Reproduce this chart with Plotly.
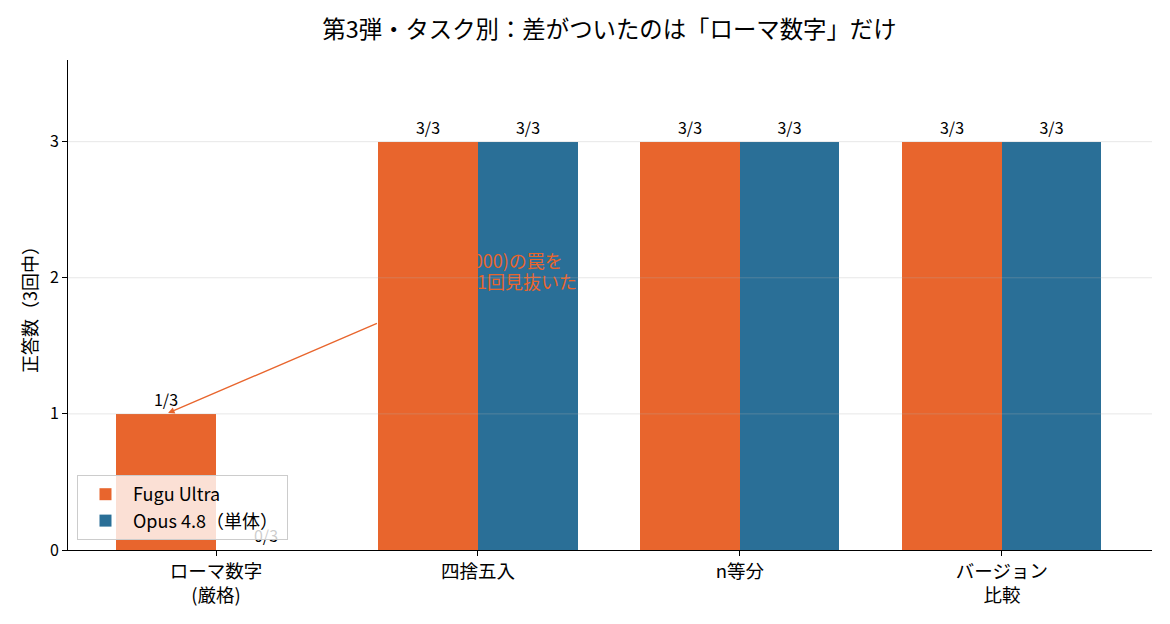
import plotly.graph_objects as go

# data
categories = ["ローマ数字<br>(厳格)", "四捨五入", "n等分", "バージョン<br>比較"]
fugu_scores = [1, 3, 3, 3]
opus_scores = [0, 3, 3, 3]
total_runs = 3
y_ticks = [0, 1, 2, 3]
note_lines = ["範囲外(4000)の罠を", "Fuguだけが1回見抜いた"]

FONT = "Noto Sans CJK JP"
ORANGE = "#E8652D"
BLUE = "#2A6F97"
BAR_W = 0.38

x_pos = list(range(len(categories)))

fig = go.Figure()

# Fugu sits on an overlay axis so it is drawn above the note text (like the source)
fig.add_trace(go.Bar(
    x=x_pos, y=fugu_scores, name="Fugu Ultra",
    width=BAR_W, offset=-BAR_W, marker_color=ORANGE, marker_line_width=0,
    text=[f"{v}/{total_runs}" for v in fugu_scores], textposition="outside",
    textfont=dict(size=16, color="black"), cliponaxis=False,
    xaxis="x2", yaxis="y2",
))
fig.add_trace(go.Bar(
    x=x_pos, y=opus_scores, name="Opus 4.8（単体）\u00a0",
    width=BAR_W, offset=0, marker_color=BLUE, marker_line_width=0,
    text=[f"{v}/{total_runs}" for v in opus_scores], textposition="outside",
    textfont=dict(size=16, color="black"), cliponaxis=False,
))
# note text, partly hidden behind the orange bar (one trace per line)
fig.add_trace(go.Scatter(
    x=[1.324, 1.378], y=[2.103, 1.949], mode="text",
    text=note_lines,
    textposition="middle left",
    textfont=dict(size=18, color=ORANGE, family=FONT),
    showlegend=False, hoverinfo="skip",
))

# arrow pointing at the Fugu bar in the first group
fig.add_annotation(
    x=x_pos[0] - BAR_W / 2, y=fugu_scores[0], ax=0.62, ay=1.67,
    xref="x", yref="y", axref="x", ayref="y",
    text="", showarrow=True, arrowhead=2, arrowsize=1, arrowwidth=1.3,
    arrowcolor=ORANGE, standoff=2,
)

# grid on top of the bars, faint
for v in y_ticks[1:]:
    fig.add_shape(type="line", xref="paper", yref="y", x0=0, x1=1, y0=v, y1=v,
                  line=dict(color="rgba(176,176,176,0.3)", width=1), layer="above")

x_range = [-0.565, 3.573]
y_range = [0, 3.6]

# page body adds 8px, so the figure is 8px smaller each way
fig.update_layout(
    width=1162, height=616,
    margin=dict(l=60, r=18, t=52, b=74),
    paper_bgcolor="white", plot_bgcolor="white",
    font=dict(family=FONT, size=17, color="black"),
    title=dict(text="第3弾・タスク別：差がついたのは「ローマ数字」だけ",
               x=0.5176, xanchor="center", y=0.9643, yanchor="middle",
               font=dict(size=23.4, color="black")),
    barmode="overlay",
    bargap=0,
    xaxis=dict(range=x_range, tickvals=x_pos, ticktext=categories,
               showline=True, linecolor="black", linewidth=1,
               ticks="outside", ticklen=5, tickcolor="black", automargin=False,
               showgrid=False, zeroline=False, tickfont=dict(size=18.5)),
    yaxis=dict(range=y_range, tickvals=y_ticks,
               showline=True, linecolor="black", linewidth=1,
               ticks="outside", ticklen=5, tickcolor="black", automargin=False,
               showgrid=False, zeroline=False, tickfont=dict(size=16),
               title=dict(text="正答数（3回中）", font=dict(size=18), standoff=7)),
    xaxis2=dict(range=x_range, overlaying="x", visible=False),
    yaxis2=dict(range=y_range, overlaying="y", visible=False),
    legend=dict(x=0.0083, y=0.0204, xanchor="left", yanchor="bottom",
                bgcolor="rgba(255,255,255,0.8)", bordercolor="#cccccc",
                borderwidth=1, font=dict(size=18), itemwidth=45),
)

fig.write_html("out.html")
